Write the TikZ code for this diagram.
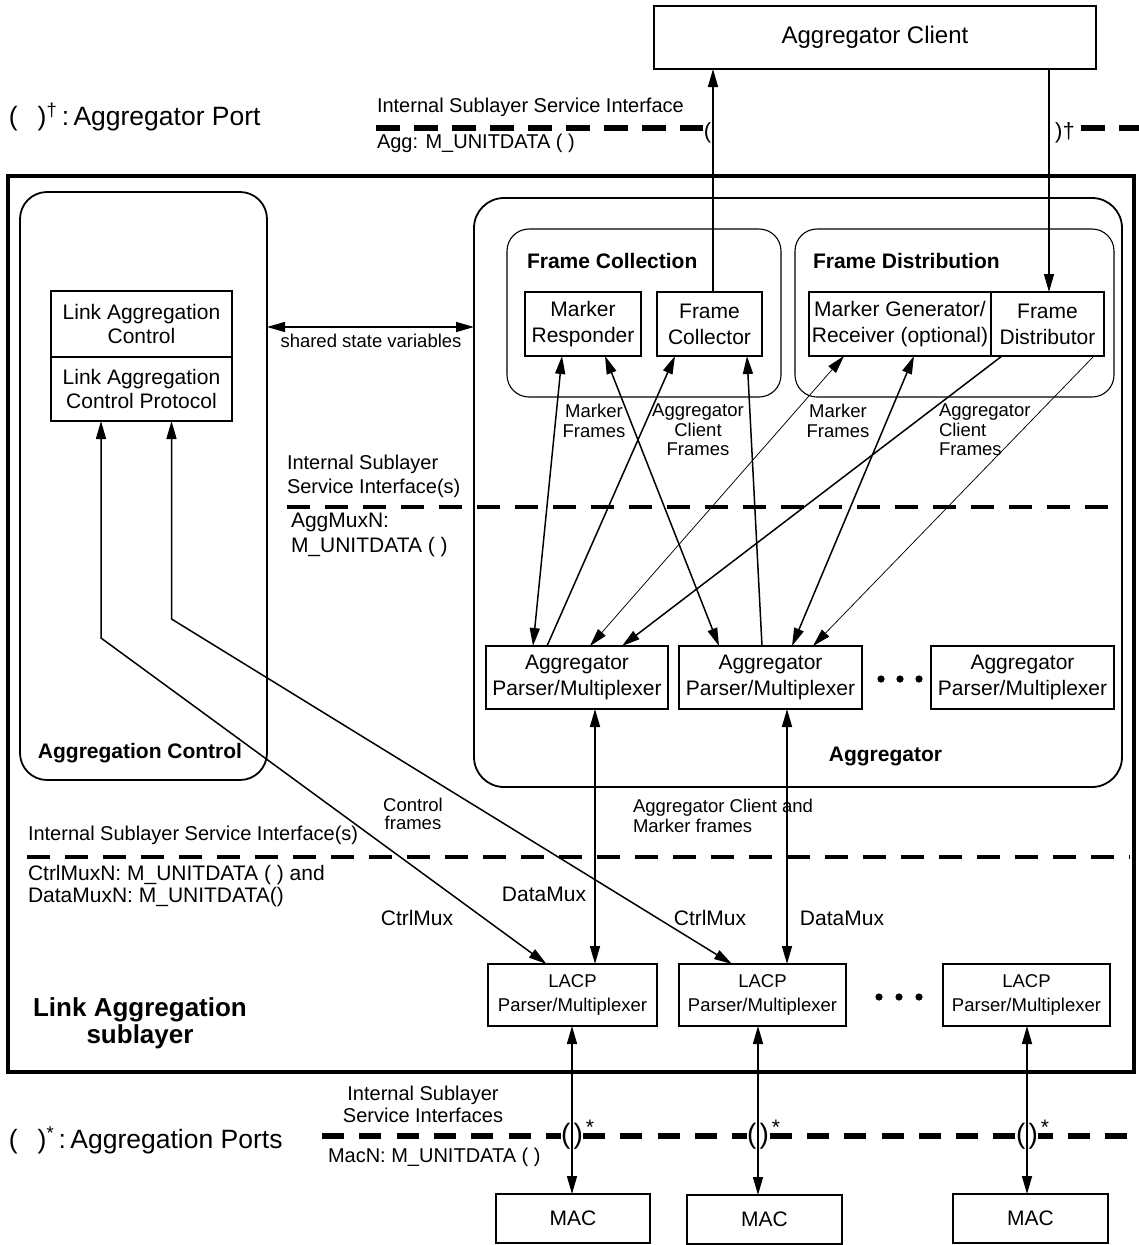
\documentclass[tikz,border=0pt]{standalone}
\usepackage{fontspec}
\setmainfont{Liberation Sans}
\usetikzlibrary{arrows.meta}
% text sizes (1 unit = 1pt)
\newcommand\txtnorm{\fontsize{21}{26}\selectfont}
\newcommand\txttight{\fontsize{21}{24}\selectfont}
\newcommand\txtsmall{\fontsize{18.5}{20.5}\selectfont}
\newcommand\txtbig{\fontsize{24}{28}\selectfont}
\newcommand\txtlegend{\fontsize{26.5}{30}\selectfont}
\newcommand\txthead{\fontsize{21}{26}\selectfont\bfseries}
\newcommand\txtparen{\fontsize{28}{30}\selectfont}
\newcommand\txtiface{\fontsize{20}{24}\selectfont}

\begin{document}
\begin{tikzpicture}[x=1pt,y=-1pt,
  every node/.style={inner sep=0pt,outer sep=0pt},
  box/.style={draw,line width=1.8pt,align=center,font=\txtnorm},
  grp/.style={draw,line width=1.8pt},
  lbl/.style={align=center},
  conn/.style={line width=1.5pt},
  fine/.style={line width=0.75pt},
  hd/.style={-{Triangle[length=18pt,width=10pt]}},
  hdd/.style={{Triangle[length=18pt,width=10pt]}-{Triangle[length=18pt,width=10pt]}},
  ifline/.style={line width=3.5pt,dash pattern=on 23pt off 15pt},
  portline/.style={line width=6.5pt,dash pattern=on 24pt off 14pt},
  portline2/.style={line width=6.5pt,dash pattern=on 22pt off 15.3pt},
]
\fill[white] (0,0) rectangle (1138,1245);
\useasboundingbox (0,0) rectangle (1138,1245);

% ---- containers ----
\node[draw,line width=3.5pt,minimum width=1126pt,minimum height=896pt] (outer) at (571,624) {};
\node[grp,rounded corners=27pt,minimum width=247pt,minimum height=588pt] (aggctl) at (143.5,486) {};
\node[grp,rounded corners=30pt,minimum width=648pt,minimum height=589pt] (aggr) at (798,492.5) {};
\node[draw,line width=1.1pt,rounded corners=22pt,minimum width=274pt,minimum height=168pt] (fcoll) at (644,313) {};
\node[draw,line width=1.1pt,rounded corners=22pt,minimum width=319pt,minimum height=168pt] (fdist) at (954.5,313) {};

% ---- boxes ----
\node[box,font=\txtbig,minimum width=442pt,minimum height=63pt] (client) at (875,37.5) {Aggregator Client};
\node[box,font=\txttight,minimum width=181pt,minimum height=66pt] (lac) at (141.5,324) {Link Aggregation\\Control};
\node[box,font=\txttight,minimum width=181pt,minimum height=64pt] (lacpr) at (141.5,389) {Link Aggregation\\Control Protocol};

\node[box,minimum width=116pt,minimum height=64pt] (mresp) at (583,324) {Marker\\Responder};
\node[box,minimum width=105pt,minimum height=64pt] (fcollr) at (709.5,324) {Frame\\Collector};
\node[box,minimum width=182pt,minimum height=64pt] (mgen) at (900,324) {Marker Generator/\\Receiver (optional)};
\node[box,minimum width=113pt,minimum height=64pt] (fdistr) at (1047.5,324) {Frame\\Distributor};

\node[box,minimum width=182pt,minimum height=63pt] (apm1) at (577,677.5) {Aggregator\\Parser/Multiplexer};
\node[box,minimum width=183pt,minimum height=63pt] (apm2) at (770.5,677.5) {Aggregator\\Parser/Multiplexer};
\node[box,minimum width=183pt,minimum height=63pt] (apm3) at (1022.5,677.5) {Aggregator\\Parser/Multiplexer};

\node[box,font=\fontsize{18.5}{24}\selectfont,minimum width=169pt,minimum height=62pt] (lpm1) at (572.5,995) {LACP\\Parser/Multiplexer};
\node[box,font=\fontsize{18.5}{24}\selectfont,minimum width=167pt,minimum height=62pt] (lpm2) at (762.5,995) {LACP\\Parser/Multiplexer};
\node[box,font=\fontsize{18.5}{24}\selectfont,minimum width=167pt,minimum height=62pt] (lpm3) at (1026.5,995) {LACP\\Parser/Multiplexer};

\node[box,minimum width=154pt,minimum height=49pt] (mac1) at (573,1218.5) {MAC};
\node[box,minimum width=155pt,minimum height=49pt] (mac2) at (764.5,1219.5) {MAC};
\node[box,minimum width=155pt,minimum height=49pt] (mac3) at (1030.5,1218.5) {MAC};

% ellipses between repeated boxes
\foreach \px in {881,900,919} \fill (\px,679) circle (3.6pt);
\foreach \px in {879,899,919} \fill (\px,997) circle (3.6pt);

% ---- service interface lines ----
\draw[portline] (376,128) -- (703,128);
\draw[portline] (1081,128) -- (1140,128);
\draw[ifline] (287,507) -- (1122,507);
\draw[ifline] (27,857) -- (1130,857);
\draw[portline2] (322,1136) -- (1140,1136);

% port markers
\node[font=\fontsize{22}{24}\selectfont] (pL) at (707.5,132.5) {(};
\node[font=\fontsize{22}{24}\selectfont] (pR) at (1065,132.5) {)†};
\node[fill=white,font=\txtparen] (pm1) at (572,1136) {(\hspace{3pt})};
\node[fill=white,font=\txtparen] (pm2) at (758,1136) {(\hspace{3pt})};
\node[fill=white,font=\txtparen] (pm3) at (1027,1136) {(\hspace{3pt})};
\node[font=\fontsize{21}{22}\selectfont] (st1) at (590,1127) {*};
\node[font=\fontsize{21}{22}\selectfont] (st2) at (776,1127) {*};
\node[font=\fontsize{21}{22}\selectfont] (st3) at (1045,1127) {*};

% ---- connectors ----
\draw[conn,hd] (fcollr.north -| 713,0) -- (client.south -| 713,0);
\draw[conn,hd] (client.south -| 1049,0) -- (fdistr.north -| 1049,0);

\coordinate (ss) at (0,327);
\draw[conn,hdd] (aggctl.east |- ss) -- (aggr.west |- ss);

\coordinate (c1) at (101,638);
\coordinate (c2) at (171.5,619);
\draw[conn,hdd] (lacpr.south -| c1) -- (c1) -- ([xshift=-26pt]lpm1.north);
\draw[conn,hdd] (lacpr.south -| c2) -- (c2) -- ([xshift=-30.5pt]lpm2.north);

\coordinate (d1) at (595,0);
\coordinate (d2) at (787,0);
\draw[conn,hdd] (apm1.south -| d1) -- (lpm1.north -| d1);
\draw[conn,hdd] (apm2.south -| d2) -- (lpm2.north -| d2);

% frame paths between the aggregator parsers and the collection/distribution functions
\draw[conn,hdd] ([xshift=-44pt]apm1.north) -- ([xshift=-21pt]mresp.south);
\draw[conn,hdd] ([xshift=-51.5pt]apm2.north) -- ([xshift=22pt]mresp.south);
\draw[conn,hd] ([xshift=-30pt]apm1.north) -- ([xshift=-34.5pt]fcollr.south);
\draw[conn,hd] ([xshift=-8.5pt]apm2.north) -- ([xshift=37.5pt]fcollr.south);
\draw[fine,hdd] ([xshift=13pt]apm1.north) -- ([xshift=-56pt]mgen.south);
\draw[conn,hd] ([xshift=-45.5pt]fdistr.south) -- ([xshift=45pt]apm1.north);
\draw[conn,hdd] ([xshift=21.5pt]apm2.north) -- ([xshift=14pt]mgen.south);
\draw[fine,hd] ([xshift=46.5pt]fdistr.south) -- ([xshift=42.5pt]apm2.north);

\coordinate (m1) at (572,0);
\coordinate (m2) at (758,0);
\coordinate (m3) at (1027,0);
\draw[conn,hdd] (lpm1.south -| m1) -- (mac1.north -| m1);
\draw[conn,hdd] (lpm2.south -| m2) -- (mac2.north -| m2);
\draw[conn,hdd] (lpm3.south -| m3) -- (mac3.north -| m3);

% ---- labels ----
\node[anchor=west,font=\txtlegend] (legA) at (9,117) {(\hspace{0.75em})\textsuperscript{†}\,:\,Aggregator Port};
\node[anchor=west,font=\txtiface] (ifA) at (377,107) {Internal Sublayer Service Interface};
\node[anchor=west,font=\txtiface] (svcA) at (377,143) {Agg: M\_UNITDATA ( )};

\node[font=\txtsmall] (shared) at (371,341) {shared state variables};
\node[anchor=west,font=\txthead] (fcollT) at (527,261) {Frame Collection};
\node[anchor=west,font=\txthead] (fdistT) at (813,261) {Frame Distribution};

\node[lbl,font=\txtsmall] (mf1) at (594,421) {Marker\\Frames};
\node[lbl,font=\fontsize{18.5}{19.5}\selectfont] (acf1) at (698,430) {Aggregator\\Client\\Frames};
\node[lbl,font=\txtsmall] (mf2) at (838,421) {Marker\\Frames};
\node[align=left,anchor=west,font=\fontsize{18.5}{19.5}\selectfont] (acf2) at (939,430) {Aggregator\\Client\\Frames};

\node[align=left,anchor=west,font=\txtiface] (ifB) at (287,476) {Internal Sublayer\\Service Interface(s)};
\node[align=left,anchor=west,font=\fontsize{21}{25}\selectfont] (svcB) at (291,535) {AggMuxN:\\M\_UNITDATA ( )};

\node[font=\txthead] (aggctlT) at (140,753) {Aggregation Control};
\node[font=\txthead] (aggrT) at (885.5,756) {Aggregator};

\node[lbl,font=\fontsize{18.5}{17.5}\selectfont] (ctlf) at (413,814) {Control\\frames};
\node[align=left,anchor=west,font=\txtsmall] (acmf) at (633,816) {Aggregator Client and\\Marker frames};
\node[anchor=west,font=\txtiface] (ifC) at (28,835) {Internal Sublayer Service Interface(s)};
\node[align=left,anchor=west,font=\fontsize{21}{22}\selectfont] (svcC) at (28,886) {CtrlMuxN: M\_UNITDATA ( ) and\\DataMuxN: M\_UNITDATA()};

\node[font=\txtnorm] (dm1) at (544,894) {DataMux};
\node[font=\txtnorm] (cm1) at (417,918) {CtrlMux};
\node[font=\txtnorm] (cm2) at (710,918) {CtrlMux};
\node[font=\txtnorm] (dm2) at (842,918) {DataMux};

\node[lbl,font=\fontsize{26}{27}\selectfont\bfseries] (subl) at (140,1023) {Link Aggregation\\sublayer};

\node[lbl,font=\fontsize{20}{22}\selectfont] (ifD) at (423,1104) {Internal Sublayer\\Service Interfaces};
\node[anchor=west,font=\txtlegend] (legB) at (9,1140) {(\hspace{0.75em})\textsuperscript{*}\,:\,Aggregation Ports};
\node[anchor=west,font=\txtiface] (svcD) at (328,1157) {MacN: M\_UNITDATA ( )};
\end{tikzpicture}
\end{document}
